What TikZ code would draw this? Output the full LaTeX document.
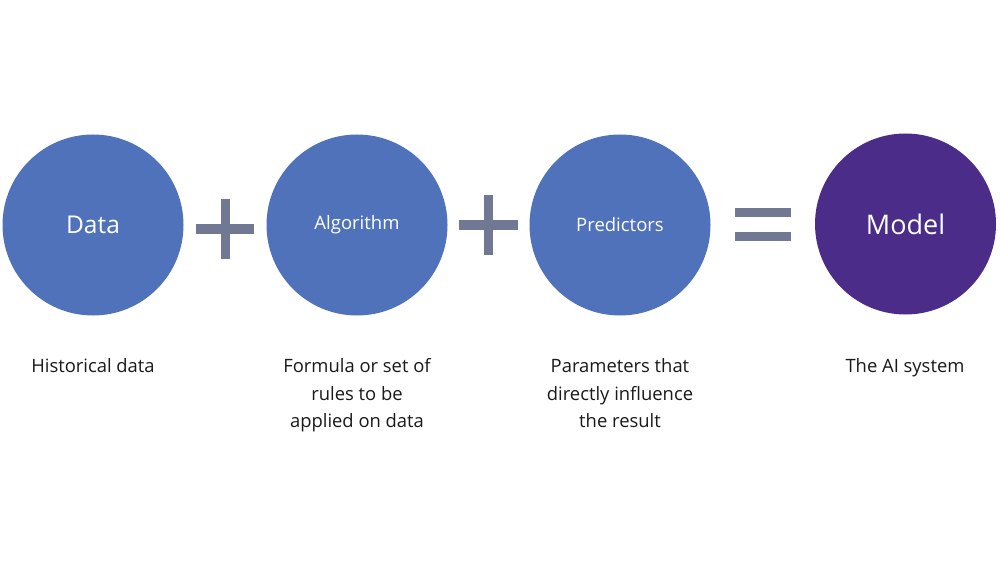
\documentclass[tikz,border=0pt]{standalone}
\usepackage{fontspec}
\setmainfont{Open Sans}
\definecolor{cblue}{HTML}{5072BA}
\definecolor{cpurple}{HTML}{4B2C88}
\definecolor{cop}{HTML}{717894}
\definecolor{ctext}{HTML}{1A1A1A}
\begin{document}
\begin{tikzpicture}[x=1pt,y=1pt,
  ball/.style={circle,inner sep=0pt,minimum size=181pt,text=white},
  desc/.style={align=center,text=ctext,font=\fontsize{18.4}{27.5}\selectfont,anchor=north},
  opbar/.style={fill=cop,draw=none}]
\useasboundingbox (0,0) rectangle (1000,563);
\fill[white] (0,0) rectangle (1000,563);
% circles
\node[ball,fill=cblue,font=\fontsize{24.5}{28}\selectfont] (data) at (93,338) {Data};
\node[ball,fill=cblue,font=\fontsize{18.5}{22}\selectfont] (algo) at (357,338) {Algorithm};
\node[ball,fill=cblue,font=\fontsize{18.5}{22}\selectfont] (pred) at (620,338) {Predictors};
\node[ball,fill=cpurple,font=\fontsize{27}{32}\selectfont] (model) at (905.5,339) {Model};
% operators
\coordinate (plus1) at (225,334);
\coordinate (plus2) at (488.5,338);
\coordinate (eq) at (763,338);
\fill[opbar] ([xshift=-29,yshift=-4.5]plus1) rectangle ([xshift=29,yshift=4.5]plus1);
\fill[opbar] ([xshift=-4.5,yshift=-30]plus1) rectangle ([xshift=4.5,yshift=30]plus1);
\fill[opbar] ([xshift=-29.5,yshift=-4.5]plus2) rectangle ([xshift=29.5,yshift=4.5]plus2);
\fill[opbar] ([xshift=-4.5,yshift=-30]plus2) rectangle ([xshift=4.5,yshift=30]plus2);
\fill[opbar] ([xshift=-28,yshift=8]eq) rectangle ([xshift=28,yshift=17]eq);
\fill[opbar] ([xshift=-28,yshift=-16]eq) rectangle ([xshift=28,yshift=-7]eq);
% descriptions
\node[desc] (d1) at (93,208) {Historical data};
\node[desc] (d2) at (357,208) {Formula or set of\\rules to be\\applied on data};
\node[desc] (d3) at (620,208) {Parameters that\\directly influence\\the result};
\node[desc] (d4) at (905,208) {The AI system};
\end{tikzpicture}
\end{document}
